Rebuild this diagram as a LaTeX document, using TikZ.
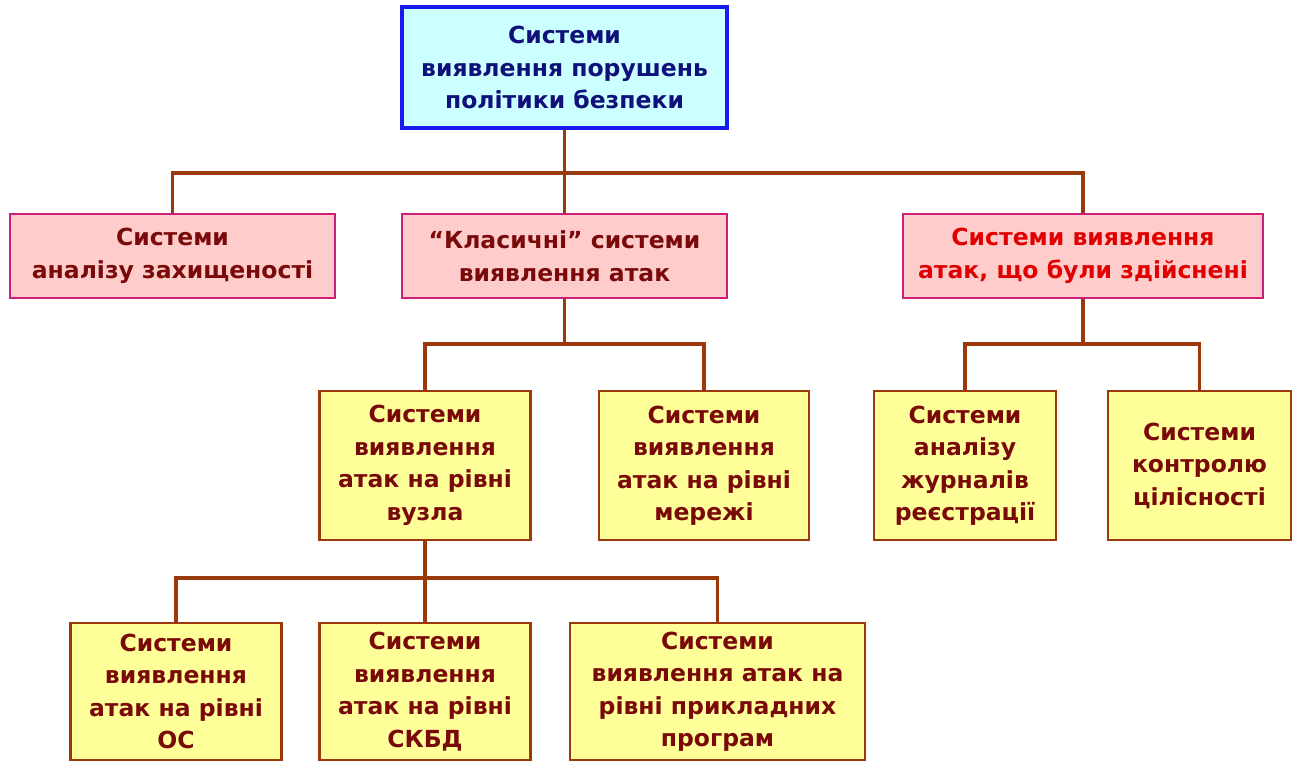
\documentclass[tikz,border=0pt]{standalone}
\usepackage{fontspec}
\setmainfont{DejaVu Sans}
\definecolor{rootfill}{HTML}{CCFFFF}
\definecolor{rootdraw}{HTML}{1A1AF0}
\definecolor{roottext}{HTML}{10107A}
\definecolor{pinkfill}{HTML}{FFCCCC}
\definecolor{pinkdraw}{HTML}{CC1F7A}
\definecolor{darkred}{HTML}{7A0A0A}
\definecolor{brightred}{HTML}{E00000}
\definecolor{yellowfill}{HTML}{FFFF99}
\definecolor{brown}{HTML}{9A3A0A}
\begin{document}
\begin{tikzpicture}[x=1pt,y=-1pt,
  txt/.style={font=\fontsize{23.5}{32.5}\selectfont\bfseries, align=center, inner sep=0pt},
  rootbox/.style={txt, rectangle, draw=rootdraw, line width=3.2pt, fill=rootfill, text=roottext},
  pinkbox/.style={txt, rectangle, draw=pinkdraw, line width=2.4pt, fill=pinkfill, text=darkred},
  yellowbox/.style={txt, rectangle, draw=brown, line width=2.6pt, fill=yellowfill, text=darkred},
  link/.style={draw=brown, line width=3.6pt}]
\useasboundingbox (0,0) rectangle (1297,773);

% root
\node[rootbox, minimum width=325pt, minimum height=121pt] (root) at (564.5,67.5)
  {Системи\\виявлення порушень\\політики безпеки};

% second level
\node[pinkbox, minimum width=325pt, minimum height=84pt] (anal) at (172.5,256)
  {Системи\\аналізу захищеності};
\node[pinkbox, minimum width=325pt, minimum height=84pt] (classic) at (564.5,256)
  {“Класичні” системи\\виявлення атак};
\node[pinkbox, minimum width=360pt, minimum height=84pt, text=brightred] (done) at (1083,256)
  {Системи виявлення\\атак, що були здійснені};

% third level
\node[yellowbox, minimum width=211pt, minimum height=149pt] (host) at (425,465.5)
  {Системи\\виявлення\\атак на рівні\\вузла};
\node[yellowbox, minimum width=210pt, minimum height=149pt] (net) at (704,465.5)
  {Системи\\виявлення\\атак на рівні\\мережі};
\node[yellowbox, minimum width=182pt, minimum height=149pt] (logs) at (965,465.5)
  {Системи\\аналізу\\журналів\\реєстрації};
\node[yellowbox, minimum width=183pt, minimum height=149pt] (integ) at (1199.5,465.5)
  {Системи\\контролю\\цілісності};

% fourth level
\node[yellowbox, minimum width=211pt, minimum height=137pt] (os) at (176,691.5)
  {Системи\\виявлення\\атак на рівні\\ОС};
\node[yellowbox, minimum width=211pt, minimum height=137pt] (dbms) at (425,691.5)
  {Системи\\виявлення\\атак на рівні\\СКБД};
\node[yellowbox, minimum width=295pt, minimum height=137pt] (apps) at (717.5,691.5)
  {Системи\\виявлення атак на\\рівні прикладних\\програм};

% junctions of the tree
\coordinate (j1) at (564.5,173);
\coordinate (j2) at (564.5,344);
\coordinate (j3) at (1083,344);
\coordinate (j4) at (425,578);

% connectors
\draw[link] (root.south) -- (j1);
\draw[link] (anal.north) |- (j1) -| (done.north);
\draw[link] (j1) -- (classic.north);
\draw[link] (classic.south) -- (j2);
\draw[link] (host.north) |- (j2) -| (net.north);
\draw[link] (done.south) -- (j3);
\draw[link] (logs.north) |- (j3) -| (integ.north);
\draw[link] (host.south) -- (j4);
\draw[link] (os.north) |- (j4) -| (apps.north);
\draw[link] (j4) -- (dbms.north);
\end{tikzpicture}
\end{document}
